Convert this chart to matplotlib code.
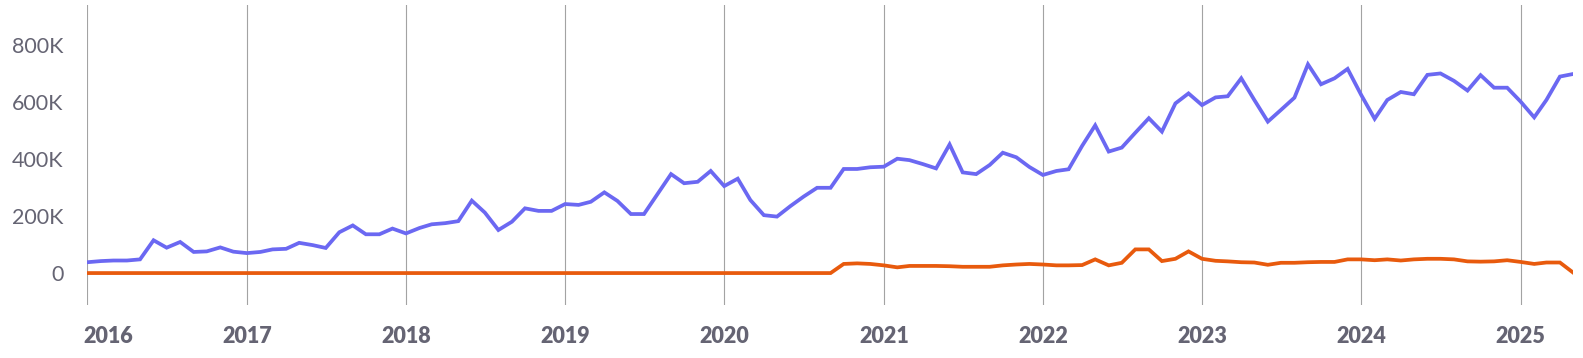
import matplotlib
matplotlib.use("Agg")
import matplotlib.pyplot as plt
import matplotlib.transforms as mtransforms
from matplotlib.ticker import FuncFormatter
import pandas as pd

plt.rcParams['font.family'] = ['Lato', 'DejaVu Sans']

start_month = "2016-01"
n_months = 113
year_labels = ["2016", "2017", "2018", "2019", "2020", "2021", "2022", "2023", "2024", "2025"]
y_ticks_k = [0, 200, 400, 600, 800]

# values in thousands, monthly Jan 2016 .. May 2025
series_blue_k = [
    38, 42, 44, 44, 48, 115, 89, 109, 74, 76, 90, 75,
    70, 74, 83, 85, 106, 98, 88, 143, 167, 136, 136, 156,
    139, 158, 171, 175, 182, 254, 212, 151, 180, 227, 218, 218,
    242, 239, 250, 283, 253, 207, 207, 277, 347, 315, 320, 358,
    305, 331, 256, 203, 198, 235, 268, 299, 299, 365, 365, 371,
    373, 401, 396, 382, 367, 451, 353, 347, 379, 422, 406, 372,
    344, 358, 364, 446, 518, 426, 440, 492, 543, 496, 595, 630,
    589, 616, 620, 683, 607, 531, 572, 615, 732, 662, 683, 716,
    625, 541, 607, 635, 627, 695, 700, 674, 640, 694, 650, 650,
    601, 546, 607, 689, 698,
]
series_orange_k = [0] * 57 + [
    32, 34, 32,
    27, 20, 25, 25, 25, 24, 22, 22, 22, 27, 30, 32,
    30, 27, 27, 28, 48, 27, 36, 83, 83, 42, 50, 76,
    50, 43, 41, 38, 37, 29, 36, 36, 38, 39, 39, 48,
    48, 45, 48, 44, 48, 50, 50, 48, 41, 40, 41, 45,
    39, 32, 37, 37, 2,
]

dates = pd.date_range(start_month, periods=n_months, freq="MS")

W, H = 1583, 358
fig = plt.figure(figsize=(W / 100, H / 100), dpi=100)
left, right = 87.3 / W, 1573 / W
top_px, bot_px = 5, 305
ax = fig.add_axes([left, 1 - bot_px / H, right - left, (bot_px - top_px) / H])

blue = "#6b68f2"
orange = "#e85a0d"
txt = "#656473"

ax.plot(dates, series_orange_k, color=orange, lw=2.7, solid_joinstyle="miter", zorder=3)
ax.plot(dates, series_blue_k, color=blue, lw=2.7, solid_joinstyle="miter", zorder=4)

ax.set_xlim(dates[0], dates[-1])
ax.set_ylim(-112, 940)

year_ticks = [pd.Timestamp(f"{y}-01-01") for y in year_labels]
ax.set_xticks(year_ticks)
ax.set_xticklabels(year_labels)
ax.xaxis.grid(True, color="#a3a3a3", lw=0.8)
ax.yaxis.grid(False)

ax.set_yticks(y_ticks_k)
ax.yaxis.set_major_formatter(FuncFormatter(lambda v, p: "0" if v == 0 else f"{int(v)}K"))

for s in ax.spines.values():
    s.set_visible(False)
ax.tick_params(axis="both", length=0)
ax.tick_params(axis="y", labelsize=15.5, labelcolor=txt, pad=17)
ax.tick_params(axis="x", labelsize=15.5, labelcolor=txt, pad=15)
for lab in ax.get_xticklabels():
    lab.set_fontweight("heavy")
first = ax.get_xticklabels()[0]
first.set_horizontalalignment("left")
first.set_transform(first.get_transform() + mtransforms.ScaledTranslation(-4 / 100, 0, fig.dpi_scale_trans))

fig.savefig("out.png", dpi=100)
